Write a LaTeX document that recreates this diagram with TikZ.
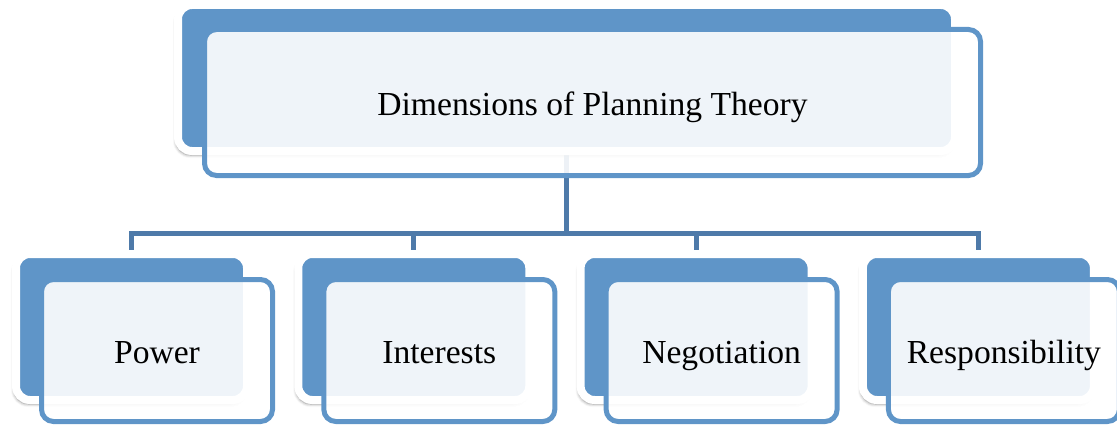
\documentclass[tikz,border=0pt]{standalone}
\usepackage{fontspec}
\usepackage{tikz}
\usetikzlibrary{positioning,backgrounds,shadows.blur}
\setmainfont{Liberation Serif}

\definecolor{boxblue}{HTML}{5F95C8}
\definecolor{linkblue}{HTML}{4E7AA9}

\begin{document}
\begin{tikzpicture}[x=1pt,y=-1pt,
        backbox/.style={draw=white, line width=8pt, fill=boxblue, rounded corners=14pt,
            minimum width=231pt, minimum height=146pt,
            blur shadow={shadow xshift=-2pt, shadow yshift=-4pt, shadow blur radius=3pt, shadow opacity=45}},
        frontbox/.style={draw=boxblue, line width=5pt, fill=white, fill opacity=0.9, text opacity=1,
            rounded corners=12pt, minimum width=231pt, minimum height=142pt,
            text height=25pt, text depth=0pt,
            font=\fontsize{33.6}{40}\selectfont},
        link/.style={draw=linkblue, line width=5pt}]
            \useasboundingbox (0,0) rectangle (1117,428);

            % top level
            \node[backbox, minimum width=777pt] (dim) at (566.5,78) {};
            \node[frontbox, minimum width=776pt, minimum height=146pt, xshift=26pt, yshift=-24.5pt] (dimtext) at (dim) {Dimensions of Planning Theory};

            % second level
            \node[backbox] (power) at (131.5,327) {};
            \node[frontbox, xshift=25.5pt, yshift=-23.5pt] (powertext) at (power) {Power};

            \node[backbox, right=43.3pt of power] (interests) {};
            \node[frontbox, xshift=25.5pt, yshift=-23.5pt] (intereststext) at (interests) {Interests};

            \node[backbox, right=43.3pt of interests] (negotiation) {};
            \node[frontbox, xshift=25.5pt, yshift=-23.5pt] (negotiationtext) at (negotiation) {Negotiation};

            \node[backbox, right=43.3pt of negotiation] (responsibility) {};
            \node[frontbox, xshift=25.5pt, yshift=-23.5pt] (responsibilitytext) at (responsibility) {Responsibility};

            % connectors behind the boxes
            \begin{scope}[on background layer]
                \coordinate (bus) at (566.5,233);
                \draw[link] (dim.center) -- (bus);
                \draw[link] (bus) -| (power.center);
                \draw[link] (bus) -| (interests.center);
                \draw[link] (bus) -| (negotiation.center);
                \draw[link] (bus) -| (responsibility.center);
            \end{scope}
        \end{tikzpicture}
\end{document}
